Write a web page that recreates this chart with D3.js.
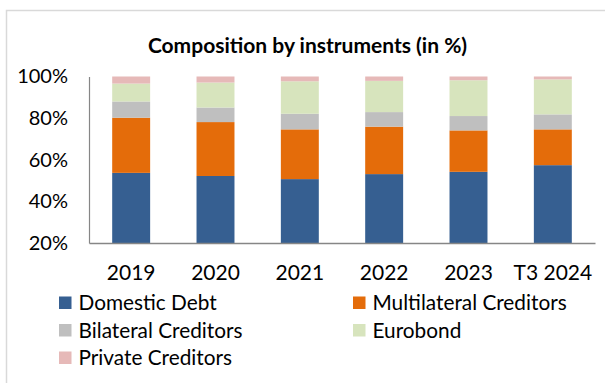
<!DOCTYPE html>
<html>
<head>
<meta charset="utf-8">
<script src="https://cdn.jsdelivr.net/npm/d3@7"></script>
<style>
  html, body { margin: 0; padding: 0; background: #fff; }
  svg { display: block; font-family: Lato, "Open Sans", sans-serif; }
</style>
</head>
<body>
<svg id="chart" width="605" height="383"></svg>
<script>
// Debt composition by instrument, share of total (%)
const years = ["2019", "2020", "2021", "2022", "2023", "T3 2024"];
const domesticDebt = [53.7, 52.2, 50.7, 53.1, 54.2, 57.4];
const multilateralCreditors = [26.5, 25.9, 23.9, 22.8, 19.9, 17.2];
const bilateralCreditors = [7.8, 7.0, 7.5, 7.0, 6.9, 7.2];
const eurobond = [8.6, 12.0, 15.6, 15.0, 17.2, 16.8];
const privateCreditors = [3.4, 2.9, 2.3, 2.1, 1.8, 1.4];
const yTicks = [20, 40, 60, 80, 100];
const seriesNames = ["Domestic Debt", "Multilateral Creditors", "Bilateral Creditors", "Eurobond", "Private Creditors"];
const seriesColors = ["#365f91", "#e46c0a", "#bfbfbf", "#d7e4bd", "#e6b9b8"];

const seriesValues = [domesticDebt, multilateralCreditors, bilateralCreditors, eurobond, privateCreditors];
const rows = years.map((yr, i) => {
  const r = { year: yr };
  seriesNames.forEach((s, k) => { r[s] = seriesValues[k][i]; });
  return r;
});

const svg = d3.select("#chart");

// outer frame
svg.append("path")
  .attr("d", "M6.5,383 V10.5 H605")
  .attr("fill", "none")
  .attr("stroke", "#d9d9d9")
  .attr("stroke-width", 1.5);

const plot = { left: 89, right: 595, top: 76.5, bottom: 243 };

const x = d3.scaleBand()
  .domain(years)
  .range([plot.left, plot.right])
  .paddingInner(0.55)
  .paddingOuter(0.275);

const y = d3.scaleLinear()
  .domain([20, 100])
  .range([plot.bottom, plot.top])
  .clamp(true);

const stacked = d3.stack().keys(seriesNames)(rows);

svg.append("g")
  .selectAll("g")
  .data(stacked)
  .join("g")
  .attr("fill", (d, i) => seriesColors[i])
  .selectAll("rect")
  .data(d => d)
  .join("rect")
  .attr("x", d => x(d.data.year))
  .attr("width", x.bandwidth())
  .attr("y", d => y(d[1]))
  .attr("height", d => y(d[0]) - y(d[1]));

// y axis labels (no tick marks)
const yAxis = svg.append("g")
  .attr("transform", `translate(${plot.left},0)`)
  .call(d3.axisLeft(y).tickValues(yTicks).tickFormat(d => d + "%").tickSize(0).tickPadding(21));
yAxis.select(".domain").attr("stroke", "#868686").attr("stroke-width", 1.2);
yAxis.selectAll("text")
  .attr("font-family", "Lato, 'Open Sans', sans-serif")
  .attr("font-size", 20)
  .attr("fill", "#000");

// x axis
const xAxis = svg.append("g")
  .attr("transform", `translate(0,${plot.bottom})`)
  .call(d3.axisBottom(x).tickSize(0).tickPadding(22));
xAxis.select(".domain").attr("stroke", "#868686").attr("stroke-width", 1.5);
xAxis.selectAll("text")
  .attr("font-family", "Lato, 'Open Sans', sans-serif")
  .attr("font-size", 21)
  .attr("fill", "#000");

// title
svg.append("text")
  .attr("x", 307.5)
  .attr("y", 52.5)
  .attr("text-anchor", "middle")
  .attr("font-size", 21)
  .attr("font-weight", "bold")
  .attr("fill", "#000")
  .text("Composition by instruments (in %)");

// legend: two columns, filled row by row
const legendCols = [59, 353];
const legendRows = [296.5, 324, 351.5];
const legend = svg.append("g")
  .selectAll("g")
  .data(seriesNames)
  .join("g")
  .attr("transform", (d, i) => `translate(${legendCols[i % 2]},${legendRows[Math.floor(i / 2)]})`);
legend.append("rect")
  .attr("width", 12.5)
  .attr("height", 12.5)
  .attr("fill", (d, i) => seriesColors[i]);
legend.append("text")
  .attr("x", 19.5)
  .attr("y", 13.5)
  .attr("font-size", 20.8)
  .attr("fill", "#000")
  .text(d => d);
</script>
</body>
</html>
